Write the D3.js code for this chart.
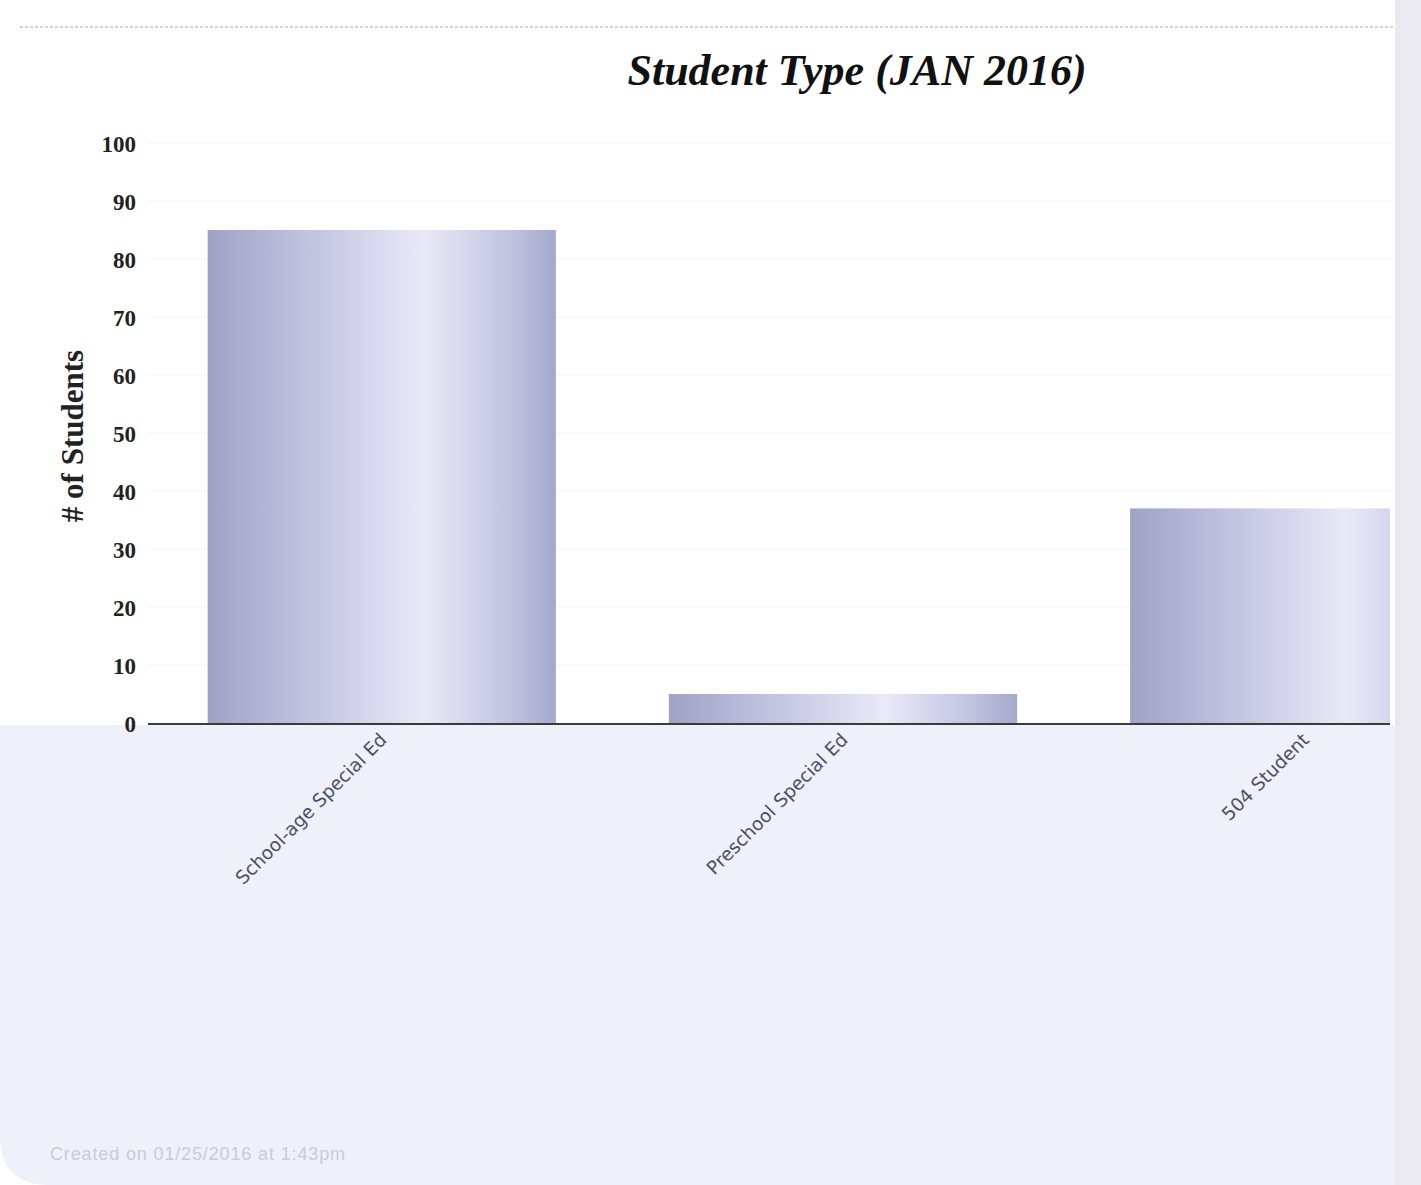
<!DOCTYPE html>
<html><head><meta charset="utf-8">
<script src="https://cdn.jsdelivr.net/npm/d3@7"></script>
<style>body{margin:0;background:#fff;}svg{display:block;}</style>
</head><body>
<script>
const categories = ["School-age Special Ed", "Preschool Special Ed", "504 Student"];
const values = [85, 5, 37];
const yTicks = [0, 10, 20, 30, 40, 50, 60, 70, 80, 90, 100];
const titleText = "Student Type (JAN 2016)";
const yTitle = "# of Students";
const footer = "Created on 01/25/2016 at  1:43pm";

const W = 1421, H = 1185;
const svg = d3.select("body").append("svg").attr("width", W).attr("height", H);
const defs = svg.append("defs");

const g1 = defs.append("linearGradient").attr("id", "barg").attr("x1", "0").attr("x2", "1").attr("y1", "0").attr("y2", "0");
[[0, "#9ea2c6"], [0.3, "#c2c4e0"], [0.62, "#e9e9f7"], [0.85, "#c4c6e2"], [1, "#a4a8cc"]].forEach(s =>
  g1.append("stop").attr("offset", s[0]).attr("stop-color", s[1]));

// background panels
svg.append("rect").attr("x", 0).attr("y", 0).attr("width", W).attr("height", H).attr("fill", "#fff");
svg.append("path").attr("d", `M0,725 L1395,725 L1395,${H} L50,${H} Q0,${H} 0,${H-50} Z`).attr("fill", "#eef0fa");
svg.append("rect").attr("x", 1395).attr("y", 0).attr("width", W - 1395).attr("height", H).attr("fill", "#e9e9ef");
svg.append("line").attr("x1", 20).attr("x2", 1395).attr("y1", 27).attr("y2", 27)
  .attr("stroke", "#9aa6c8").attr("stroke-width", 1.2).attr("stroke-dasharray", "3,2");

const plotL = 148, plotR = 1390;
const y = d3.scaleLinear().domain([0, 100]).range([723, 143]);
const x = d3.scaleBand().domain(categories).range([150, 1536]).paddingInner(0.245).paddingOuter(0.125);

defs.append("clipPath").attr("id", "plotclip").append("rect")
  .attr("x", plotL).attr("y", 100).attr("width", plotR - plotL).attr("height", 640);

// faint gridlines
svg.append("g").selectAll("line").data(yTicks.slice(1)).join("line")
  .attr("x1", plotL).attr("x2", plotR).attr("y1", d => y(d)).attr("y2", d => y(d))
  .attr("stroke", "#f2f2f5").attr("stroke-width", 1);

// bars
svg.append("g").attr("clip-path", "url(#plotclip)").selectAll("rect").data(values).join("rect")
  .attr("x", (d, i) => x(categories[i]))
  .attr("width", x.bandwidth())
  .attr("y", d => y(d))
  .attr("height", d => y(0) - y(d))
  .attr("fill", "url(#barg)");

// x axis baseline
svg.append("line").attr("x1", plotL).attr("x2", plotR).attr("y1", y(0)+1).attr("y2", y(0)+1)
  .attr("stroke", "#3a3a3a").attr("stroke-width", 2);

// y axis tick labels
const yAxis = d3.axisLeft(y).tickValues(yTicks).tickSize(0).tickPadding(0);
const ya = svg.append("g").attr("transform", "translate(136,0)").call(yAxis);
ya.select(".domain").remove();
ya.selectAll("text").attr("font-family", "'Liberation Serif', serif").attr("font-weight", "bold")
  .attr("font-size", 23).attr("fill", "#222").attr("dy", "0.35em");

// x axis labels
const xAxis = d3.axisBottom(x).tickSize(0).tickPadding(0);
const xa = svg.append("g").attr("transform", `translate(0,${y(0)})`).call(xAxis);
xa.select(".domain").remove();
xa.selectAll("text")
  .attr("font-family", "'DejaVu Sans', sans-serif").attr("font-size", 18.5).attr("fill", "#4a5068")
  .attr("text-anchor", "end").attr("dy", 0)
  .attr("transform", "translate(6,18) rotate(-45)");

// y title
svg.append("text").attr("transform", "translate(83,436) rotate(-90)")
  .attr("text-anchor", "middle").attr("font-family", "'Liberation Serif', serif")
  .attr("font-weight", "bold").attr("font-size", 31).attr("fill", "#222").text(yTitle);

// title
svg.append("text").attr("x", 857).attr("y", 85).attr("text-anchor", "middle")
  .attr("font-family", "'Liberation Serif', serif").attr("font-style", "italic").attr("font-weight", "bold")
  .attr("font-size", 44).attr("fill", "#111").text(titleText);

// footer
svg.append("text").attr("x", 50).attr("y", 1160).attr("font-family", "'Liberation Sans', sans-serif")
  .attr("font-size", 18).attr("fill", "#c9cbd8").attr("textLength", 295).text(footer);
</script>
</body></html>
